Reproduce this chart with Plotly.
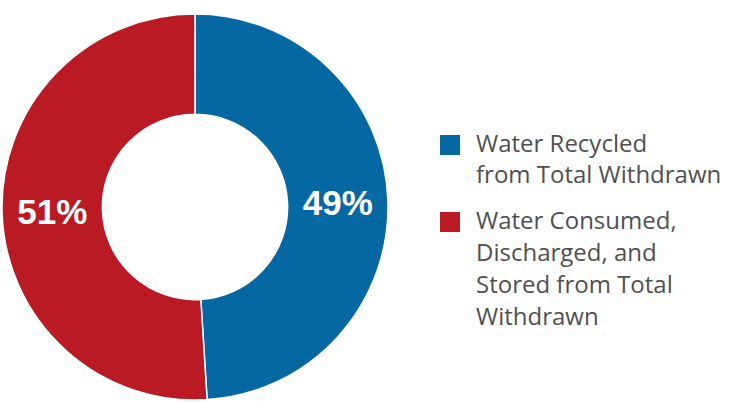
import plotly.graph_objects as go

categories = ["Water Recycled from Total Withdrawn",
              "Water Consumed, Discharged, and Stored from Total Withdrawn"]
legend_lines = [["Water Recycled", "from Total Withdrawn"],
                ["Water Consumed,", "Discharged, and", "Stored from Total", "Withdrawn"]]
values = [49, 51]
colors = ["#0668A3", "#BA1A24"]

W, H = 729, 402
cx, cy, r = 195, 207, 193

fig = go.Figure(go.Pie(
    labels=categories,
    values=values,
    hole=0.48,
    sort=False,
    direction="clockwise",
    rotation=0,
    marker=dict(colors=colors, line=dict(color="white", width=1.5)),
    texttemplate="%{value}%",
    textposition="inside",
    insidetextorientation="horizontal",
    textfont=dict(family="Liberation Sans, Arial, sans-serif", size=35, color="white", weight="bold"),
    showlegend=False,
    domain=dict(x=[(cx - r) / W, (cx + r) / W], y=[(H - cy - r) / H, (H - cy + r) / H]),
))

# manual legend
sq = 20
line_h = 32
first_line_y = [142, 219]
for lines, col, y0 in zip(legend_lines, colors, first_line_y):
    fig.add_shape(type="rect", xref="paper", yref="paper",
                  x0=440 / W, x1=(440 + sq) / W,
                  y0=1 - (y0 - 7 + sq) / H, y1=1 - (y0 - 7) / H,
                  fillcolor=col, line=dict(width=0))
    for i, txt in enumerate(lines):
        fig.add_annotation(xref="paper", yref="paper", x=474 / W, y=1 - (y0 + i * line_h) / H,
                           xanchor="left", yanchor="middle", align="left", showarrow=False,
                           text=txt, font=dict(family="Open Sans, sans-serif", size=24, color="#505050"))

fig.update_layout(width=W, height=H, margin=dict(l=0, r=0, t=0, b=0),
                  paper_bgcolor="white", plot_bgcolor="white")
fig.write_html("out.html")
